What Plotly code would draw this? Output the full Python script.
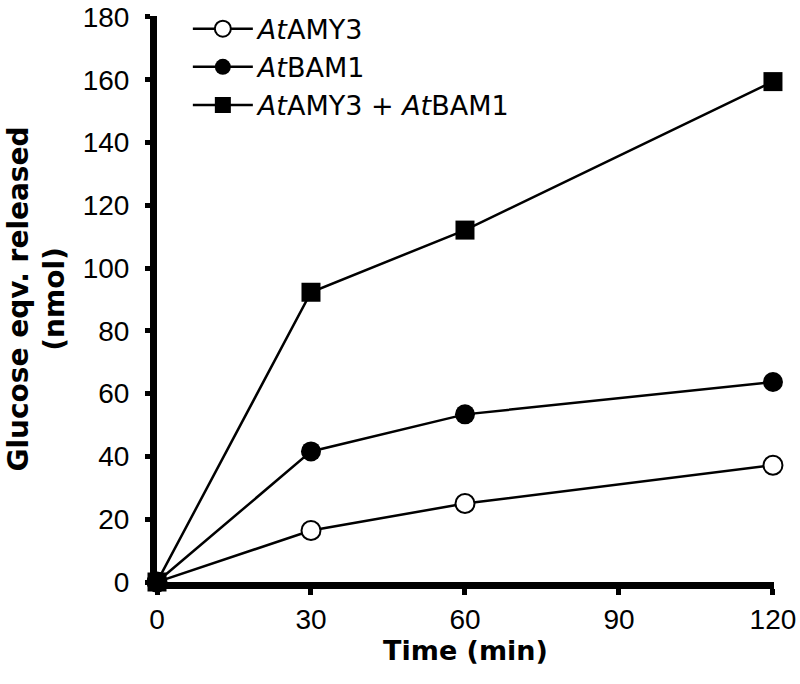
import plotly.graph_objects as go

time_min = [0, 30, 60, 120]
amy3 = [0, 16.4, 25.0, 37.2]
bam1 = [0, 41.6, 53.4, 63.7]
amy3_bam1 = [0, 92.3, 112.1, 159.4]

names = ["<i>At</i>AMY3", "<i>At</i>BAM1", "<i>At</i>AMY3 + <i>At</i>BAM1"]
x_ticks = [0, 30, 60, 90, 120]
y_ticks = [0, 20, 40, 60, 80, 100, 120, 140, 160, 180]

FONT = "Liberation Sans, Arial, sans-serif"
TFONT = "DejaVu Sans, Liberation Sans, sans-serif"
FS = 28

fig = go.Figure()
fig.add_trace(go.Scatter(
    x=time_min, y=amy3, name=names[0], mode="lines+markers",
    line=dict(color="black", width=2.5),
    marker=dict(symbol="circle", size=19, color="white", line=dict(color="black", width=2)),
    cliponaxis=False))
fig.add_trace(go.Scatter(
    x=time_min, y=bam1, name=names[1], mode="lines+markers",
    line=dict(color="black", width=2.5),
    marker=dict(symbol="circle", size=20, color="black", line=dict(color="black", width=0)),
    cliponaxis=False))
fig.add_trace(go.Scatter(
    x=time_min, y=amy3_bam1, name=names[2], mode="lines+markers",
    line=dict(color="black", width=2.5),
    marker=dict(symbol="square", size=19, color="black", line=dict(color="black", width=0)),
    cliponaxis=False))

fig.update_layout(
    width=800, height=684,
    margin=dict(l=157, r=26, t=16, b=102, autoexpand=False),
    paper_bgcolor="white", plot_bgcolor="white",
    font=dict(family=FONT, color="black", size=FS),
    showlegend=True,
    legend=dict(x=0.05, y=1.02, xanchor="left", yanchor="top",
                bgcolor="rgba(0,0,0,0)", font=dict(size=27, family=TFONT),
                itemwidth=60, tracegroupgap=0),
)
fig.update_xaxes(
    range=[0, 120.2], tickvals=x_ticks, ticktext=[str(v) for v in x_ticks],
    showline=True, linecolor="black", linewidth=7,
    ticks="outside", ticklen=6, tickwidth=5, tickcolor="black",
    showgrid=False, zeroline=False, ticklabeloverflow="allow",
    tickfont=dict(size=FS, family=FONT),
    title=dict(text="<b>Time (min)</b>", font=dict(size=27, family=TFONT), standoff=10),
)
fig.update_yaxes(
    range=[0, 180.3], tickvals=y_ticks, ticktext=[str(v) for v in y_ticks],
    showline=True, linecolor="black", linewidth=7,
    ticks="outside", ticklen=5, tickwidth=5, tickcolor="black",
    showgrid=False, zeroline=False, ticklabeloverflow="allow",
    ticklabelstandoff=10,
    tickfont=dict(size=FS, family=FONT),
    title=dict(text="<b>Glucose eqv. released<br>(nmol)</b>", font=dict(size=28, family=TFONT), standoff=12),
)

fig.write_html("out.html", config={"displayModeBar": False},
               post_script="document.body.style.margin='0px';")
